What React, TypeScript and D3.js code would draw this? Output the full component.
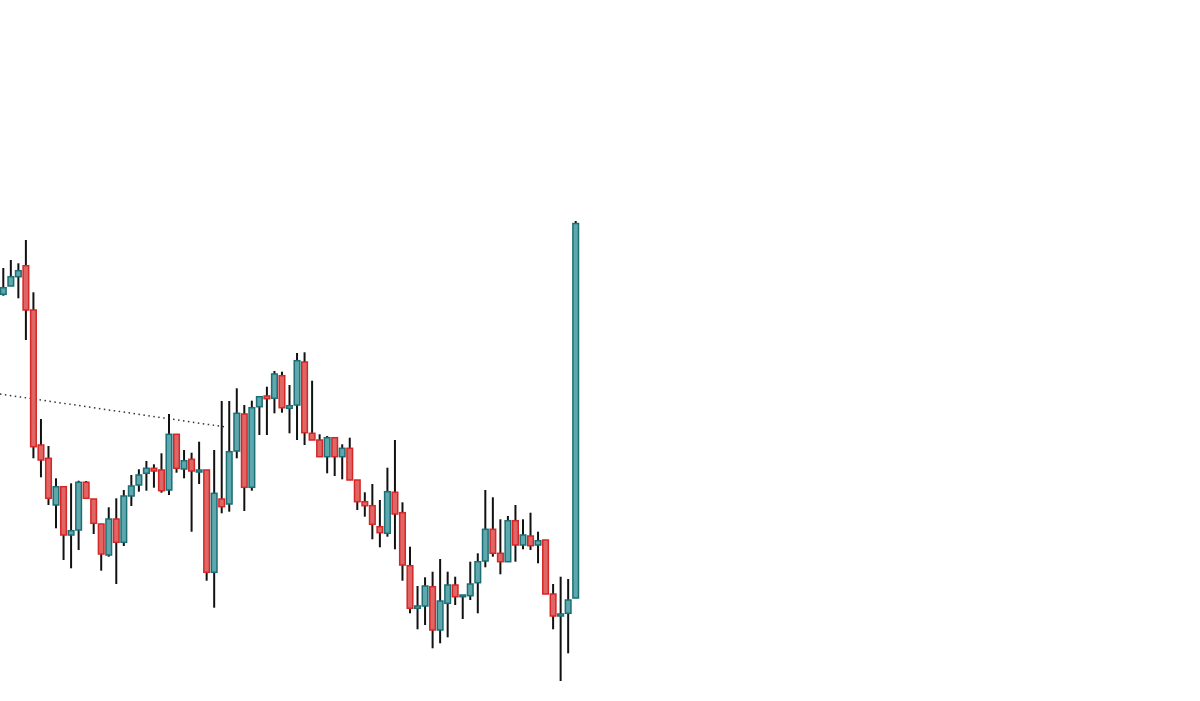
import React from 'react';
import * as d3 from 'd3';

// OHLC series (arbitrary price units)
const opens = [
  405.7, 414, 423.3, 434.3, 390, 255, 241.7, 195, 213.3, 165,
  170, 217.7, 201, 176, 145, 181, 157.7, 204, 215, 226.7,
  231.7, 230, 210, 265.7, 231, 240.7, 228, 230, 127.7, 201,
  196, 249, 286, 212.7, 293.3, 304, 301.7, 324.3, 291.7, 295,
  338, 266.7, 260, 243.3, 262.3, 243.3, 251.7, 220, 198.3, 194.3,
  173.3, 166.7, 207.7, 187.3, 134.3, 91.7, 94, 113.3, 70, 96.7,
  115, 103.3, 104.3, 117.3, 139, 170.7, 146.7, 138.3, 179.3, 155,
  164, 155, 160, 106, 84, 86.7, 102,
];
const highs = [
  432, 440, 436.7, 460, 407.7, 281, 254, 221.7, 213.3, 216.7,
  219.3, 219, 201, 176, 192.7, 201.7, 210, 225, 230.7, 239,
  235.7, 246.7, 286, 265.7, 250, 247.3, 258.3, 230, 250, 299,
  299, 311.7, 295, 299.3, 303.3, 313.3, 329, 328.3, 315, 347,
  347.7, 319.3, 265.7, 264, 262.3, 255.7, 262.3, 220, 207.7, 216,
  200, 232.3, 260, 197.7, 153.3, 114, 122.7, 128.3, 141, 128.3,
  123.3, 105, 138.3, 146.7, 210, 202.7, 180.7, 184, 195, 180.7,
  187.3, 168.3, 160, 116, 123.3, 121, 479,
];
const lows = [
  404.3, 414, 401.7, 360, 241.7, 222.7, 195, 171.7, 140, 131.7,
  150, 201.7, 166, 129.3, 143.3, 116, 154, 194, 208.3, 209.3,
  212.3, 207.3, 205, 227.3, 221.7, 168.3, 216, 119.3, 92.3, 186.7,
  188.3, 241.7, 189, 209.3, 265, 265, 286.7, 287.3, 266.7, 260,
  255, 260, 243.3, 226.7, 224, 220.7, 220, 190, 183.3, 160.7,
  152.7, 163.3, 150.7, 119.3, 86.7, 70.7, 75, 51.7, 56.7, 62.7,
  95, 81, 100, 86.7, 132.7, 143.3, 125.7, 138.3, 138.3, 150.7,
  150, 136.7, 106, 70.7, 19, 46.7, 102,
];
const closes = [
  412.3, 423.3, 429.3, 390, 253.3, 240, 201.7, 213.3, 165, 169.3,
  217.7, 201.7, 176.7, 146, 181, 157.7, 204, 214, 225, 231.7,
  229, 209.3, 265.7, 231.7, 239.3, 229, 230, 127.7, 206.7, 193.3,
  248.3, 286.7, 212.7, 292.3, 303.3, 301.3, 326, 292.3, 294.3, 339.3,
  267.3, 260, 243.3, 262.3, 243.3, 251.7, 220, 198.3, 194.3, 175.7,
  167.3, 208.3, 186, 135, 91.7, 94, 114, 70, 99, 115,
  103.3, 105, 116, 138.3, 170.7, 146.7, 138.3, 179.3, 155, 165,
  154.3, 159.3, 106, 84, 86, 100, 476.5,
];

// dotted trend line: [candle index, price]
const trendIdx = [-0.45, 29.5];
const trendPrice = [306, 273];

const W = 1200;
const H = 701;

const App: React.FC = () => {
  const x = d3.scaleLinear().domain([0, opens.length - 1]).range([3.3, 575.7]);
  const y = d3.scaleLinear().domain([0, 700]).range([700, 0]);

  const bodyW = 5.6;
  const candles = opens.map((o, i) => ({
    i, o, h: highs[i], l: lows[i], c: closes[i], up: closes[i] >= o,
  }));

  const trend = d3.line<number>()
    .x((_, k) => x(trendIdx[k]))
    .y(d => y(d));

  return (
    <svg
      width={W}
      height={H}
      style={{ position: 'absolute', left: 0, top: 0, display: 'block', background: '#fff' }}
    >
      <path
        d={trend(trendPrice) || ''}
        fill="none"
        stroke="#333"
        strokeWidth={1.5}
        strokeDasharray="1.5,3.5"
      />
      {candles.map(d => (
        <line
          key={'w' + d.i}
          x1={x(d.i)}
          x2={x(d.i)}
          y1={y(d.h)}
          y2={y(d.l)}
          stroke="#111"
          strokeWidth={2}
        />
      ))}
      {candles.map(d => {
        const top = y(Math.max(d.o, d.c));
        const bot = y(Math.min(d.o, d.c));
        return (
          <rect
            key={'b' + d.i}
            x={x(d.i) - bodyW / 2}
            y={top}
            width={bodyW}
            height={Math.max(bot - top, 1.5)}
            fill={d.up ? '#5ea8ad' : '#e06565'}
            stroke={d.up ? '#1b6e73' : '#d42727'}
            strokeWidth={1.5}
          />
        );
      })}
    </svg>
  );
};

export default App;
